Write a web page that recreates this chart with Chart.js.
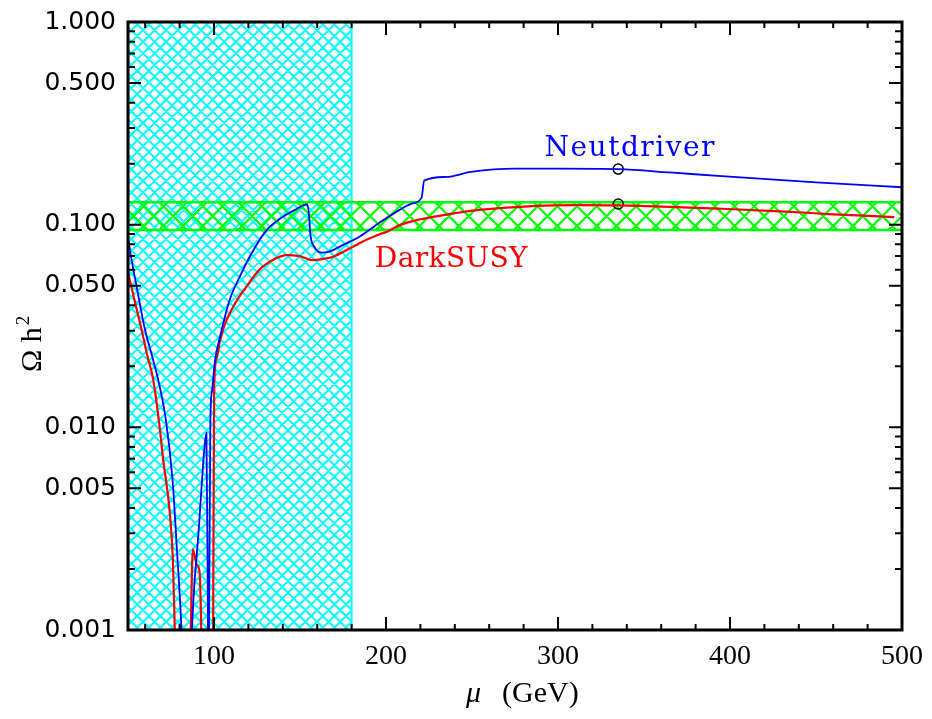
<!DOCTYPE html>
<html>
<head>
<meta charset="utf-8">
<script src="https://cdn.jsdelivr.net/npm/chart.js@4/dist/chart.umd.min.js"></script>
<style>
  html, body { margin: 0; background: #fff; }
  #wrap { width: 932px; height: 719px; }
</style>
</head>
<body>
<div id="wrap"><canvas id="relic"></canvas></div>
<script>
// Neutdriver relic density vs mu
const neutMu = [50, 52.3, 55.2, 59.9, 64, 67.6, 72.0, 75.9, 78.5, 81.1, 82, 86.5, 87.2, 91.1, 94.5, 95.6, 96.5, 96.8, 96.9, 97.1, 97.9, 98.9,
  100.4, 104.5, 109.1, 114.9, 122.3, 130.6, 139.9, 146.8, 154.3, 155.3, 156, 158.4, 162.5, 167, 174.8, 184.5, 196, 207.7, 215, 220.7,
  222.2, 235, 249.4, 275, 300, 335, 365, 393, 450, 500];
const neutOmega = [0.086, 0.0655, 0.0485, 0.0303, 0.0225, 0.0171, 0.0109, 0.0055, 0.00245, 0.0010, 0.0006, 0.0006, 0.0010, 0.0031, 0.0080, 0.0094, 0.0010, 0.0006, 0.0006, 0.0010, 0.0109, 0.0152,
  0.0208, 0.0303, 0.0425, 0.0552, 0.0733, 0.094, 0.109, 0.118, 0.126, 0.110, 0.090, 0.0776, 0.0728, 0.0736, 0.0793, 0.0872, 0.102, 0.118, 0.127, 0.136,
  0.165, 0.172, 0.182, 0.189, 0.189, 0.188, 0.181, 0.174, 0.1616, 0.153];

// DarkSUSY relic density vs mu
const darkMu = [50, 54.6, 57.9, 61, 64.7, 68.6, 70.3, 74.3, 76.1, 77.2, 78, 86, 86.5, 87.7, 90, 91.7, 92.6, 93, 99.2, 99.5, 100.1, 101.6, 103.3,
  106.2, 112, 117.8, 126.5, 135.2, 142.2, 149.7, 157.2, 163, 168.8, 180.4, 189, 196, 200.1, 208, 219.3, 235, 249, 265,
  285, 310, 335, 365, 393, 432.6, 460, 495.5];
const darkOmega = [0.058, 0.0397, 0.0303, 0.023, 0.0171, 0.0097, 0.0071, 0.0038, 0.0022, 0.0010, 0.0006, 0.0006, 0.0010, 0.0025, 0.0021, 0.0019, 0.0010, 0.0006, 0.0006, 0.0010, 0.0160, 0.0220, 0.0262,
  0.0320, 0.0405, 0.0480, 0.0600, 0.0677, 0.0708, 0.0700, 0.0669, 0.0676, 0.0692, 0.0776, 0.0845, 0.0895, 0.092, 0.0995, 0.106, 0.112, 0.117, 0.1205,
  0.1235, 0.125, 0.1245, 0.1225, 0.120, 0.116, 0.1125, 0.109];

// benchmark point on each curve
const markerMu = [335, 335];
const markerOmega = [0.188, 0.1265];

// excluded mu range and the WMAP band
const excludedMu = [50, 180];
const wmapBand = [0.094, 0.129];

const xTicks = [100, 200, 300, 400, 500];
const xTickLabels = ['100', '200', '300', '400', '500'];
const yTicks = [0.001, 0.005, 0.01, 0.05, 0.1, 0.5, 1];
const yTickLabels = ['0.001', '0.005', '0.010', '0.050', '0.100', '0.500', '1.000'];

const curveNames = ['Neutdriver', 'DarkSUSY'];
const curveNameMu = [342, 238];
const curveNameOmega = [0.236, 0.067];

function toPoints(xs, ys) {
  return xs.map((v, i) => ({ x: v, y: ys[i] }));
}

function hatch(ctx, l, t, r, b, color, step, lw) {
  ctx.save();
  ctx.beginPath();
  ctx.rect(l, t, r - l, b - t);
  ctx.clip();
  ctx.strokeStyle = color;
  ctx.lineWidth = lw;
  ctx.beginPath();
  const h = b - t;
  for (let s = l - h; s < r + h; s += step) {
    ctx.moveTo(s, b); ctx.lineTo(s + h, t);
    ctx.moveTo(s, t); ctx.lineTo(s + h, b);
  }
  ctx.stroke();
  ctx.restore();
}

const bands = {
  id: 'bands',
  beforeDatasetsDraw(chart) {
    const { ctx, chartArea: a, scales: { x, y } } = chart;
    // excluded region
    const x0 = x.getPixelForValue(excludedMu[0]);
    const x1 = x.getPixelForValue(excludedMu[1]);
    hatch(ctx, x0, a.top, x1, a.bottom, '#00ffff', 11.6, 2);
    ctx.save();
    ctx.strokeStyle = '#00ffff';
    ctx.lineWidth = 2;
    ctx.beginPath();
    ctx.moveTo(x1, a.top); ctx.lineTo(x1, a.bottom);
    ctx.stroke();

    // WMAP band
    const yt = y.getPixelForValue(wmapBand[1]);
    const yb = y.getPixelForValue(wmapBand[0]);
    hatch(ctx, a.left, yt, a.right, yb, '#00ff00', 19.7, 2.2);
    ctx.strokeStyle = '#00ff00';
    ctx.lineWidth = 2.5;
    ctx.beginPath();
    ctx.moveTo(a.left, yt); ctx.lineTo(a.right, yt);
    ctx.moveTo(a.left, yb); ctx.lineTo(a.right, yb);
    ctx.stroke();
    ctx.restore();
  },
  afterDatasetsDraw(chart) {
    const { ctx, chartArea: a, scales: { x, y } } = chart;
    ctx.save();
    ctx.strokeStyle = '#000';
    ctx.lineWidth = 2;
    ctx.beginPath();
    // y ticks, log decades with minors
    const yMinor = [];
    [0.001, 0.01, 0.1].forEach(d => [2, 3, 4, 6, 7, 8, 9].forEach(k => yMinor.push(d * k)));
    yTicks.forEach(v => {
      const py = y.getPixelForValue(v);
      ctx.moveTo(a.left, py); ctx.lineTo(a.left + 13, py);
      ctx.moveTo(a.right, py); ctx.lineTo(a.right - 13, py);
    });
    yMinor.forEach(v => {
      const py = y.getPixelForValue(v);
      ctx.moveTo(a.left, py); ctx.lineTo(a.left + 7, py);
      ctx.moveTo(a.right, py); ctx.lineTo(a.right - 7, py);
    });
    // x ticks every 20
    for (let m = 60; m < 500; m += 20) {
      const px = x.getPixelForValue(m);
      const len = m % 100 === 0 ? 13 : 6;
      ctx.moveTo(px, a.bottom); ctx.lineTo(px, a.bottom - len);
      ctx.moveTo(px, a.top); ctx.lineTo(px, a.top + len);
    }
    ctx.stroke();
    ctx.lineWidth = 3;
    ctx.strokeRect(a.left, a.top, a.right - a.left, a.bottom - a.top);

    // tick labels
    ctx.fillStyle = '#000';
    ctx.font = '25px "DejaVu Sans"';
    ctx.textAlign = 'right';
    ctx.textBaseline = 'middle';
    yTicks.forEach((v, i) => ctx.fillText(yTickLabels[i], 116, y.getPixelForValue(v)));
    ctx.font = '28px "Liberation Serif"';
    ctx.textAlign = 'center';
    ctx.textBaseline = 'top';
    xTicks.forEach((v, i) => ctx.fillText(xTickLabels[i], x.getPixelForValue(v), 643));

    // axis titles
    ctx.textBaseline = 'alphabetic';
    ctx.textAlign = 'left';
    ctx.font = 'italic 30px "Liberation Serif"';
    ctx.fillText('\u03bc', 466, 702);
    ctx.font = '30px "Liberation Serif"';
    ctx.fillText('(GeV)', 502, 702);

    ctx.save();
    ctx.translate(41, 372);
    ctx.rotate(-Math.PI / 2);
    ctx.textAlign = 'left';
    ctx.font = '30px "Liberation Serif"';
    ctx.fillText('\u03a9 h', 0, 0);
    const w = ctx.measureText('\u03a9 h').width;
    ctx.font = '19px "Liberation Serif"';
    ctx.fillText('2', w + 2, -12);
    ctx.restore();

    // curve names
    ctx.font = '28px "DejaVu Serif"';
    ctx.textAlign = 'center';
    ctx.textBaseline = 'middle';
    const colors = ['#0000ff', '#ff0000'];
    const spacing = ['1.5px', '0.4px'];
    curveNames.forEach((name, i) => {
      ctx.fillStyle = colors[i];
      ctx.letterSpacing = spacing[i];
      ctx.fillText(name, x.getPixelForValue(curveNameMu[i]), y.getPixelForValue(curveNameOmega[i]));
    });
    ctx.letterSpacing = '0px';
    ctx.restore();
  }
};

new Chart(document.getElementById('relic'), {
  type: 'line',
  data: {
    datasets: [
      {
        label: 'Neutdriver',
        data: toPoints(neutMu, neutOmega),
        borderColor: '#0000ff',
        borderWidth: 1.8,
        pointRadius: 0,
        cubicInterpolationMode: 'monotone',
        clip: 0
      },
      {
        label: 'DarkSUSY',
        data: toPoints(darkMu, darkOmega),
        borderColor: '#ff0000',
        borderWidth: 2.2,
        pointRadius: 0,
        cubicInterpolationMode: 'monotone',
        clip: 0
      },
      {
        label: 'benchmark',
        data: toPoints(markerMu, markerOmega),
        showLine: false,
        pointStyle: 'circle',
        pointRadius: 5,
        pointBorderWidth: 1.5,
        pointBorderColor: '#000',
        pointBackgroundColor: 'rgba(0,0,0,0)'
      }
    ]
  },
  options: {
    responsive: true,
    maintainAspectRatio: false,
    animation: false,
    events: [],
    layout: { padding: { left: 128, right: 30, top: 22, bottom: 89 } },
    plugins: { legend: { display: false }, tooltip: { enabled: false } },
    scales: {
      x: { type: 'linear', min: 50, max: 500, display: false },
      y: { type: 'logarithmic', min: 0.001, max: 1, display: false }
    }
  },
  plugins: [bands]
});
</script>
</body>
</html>
